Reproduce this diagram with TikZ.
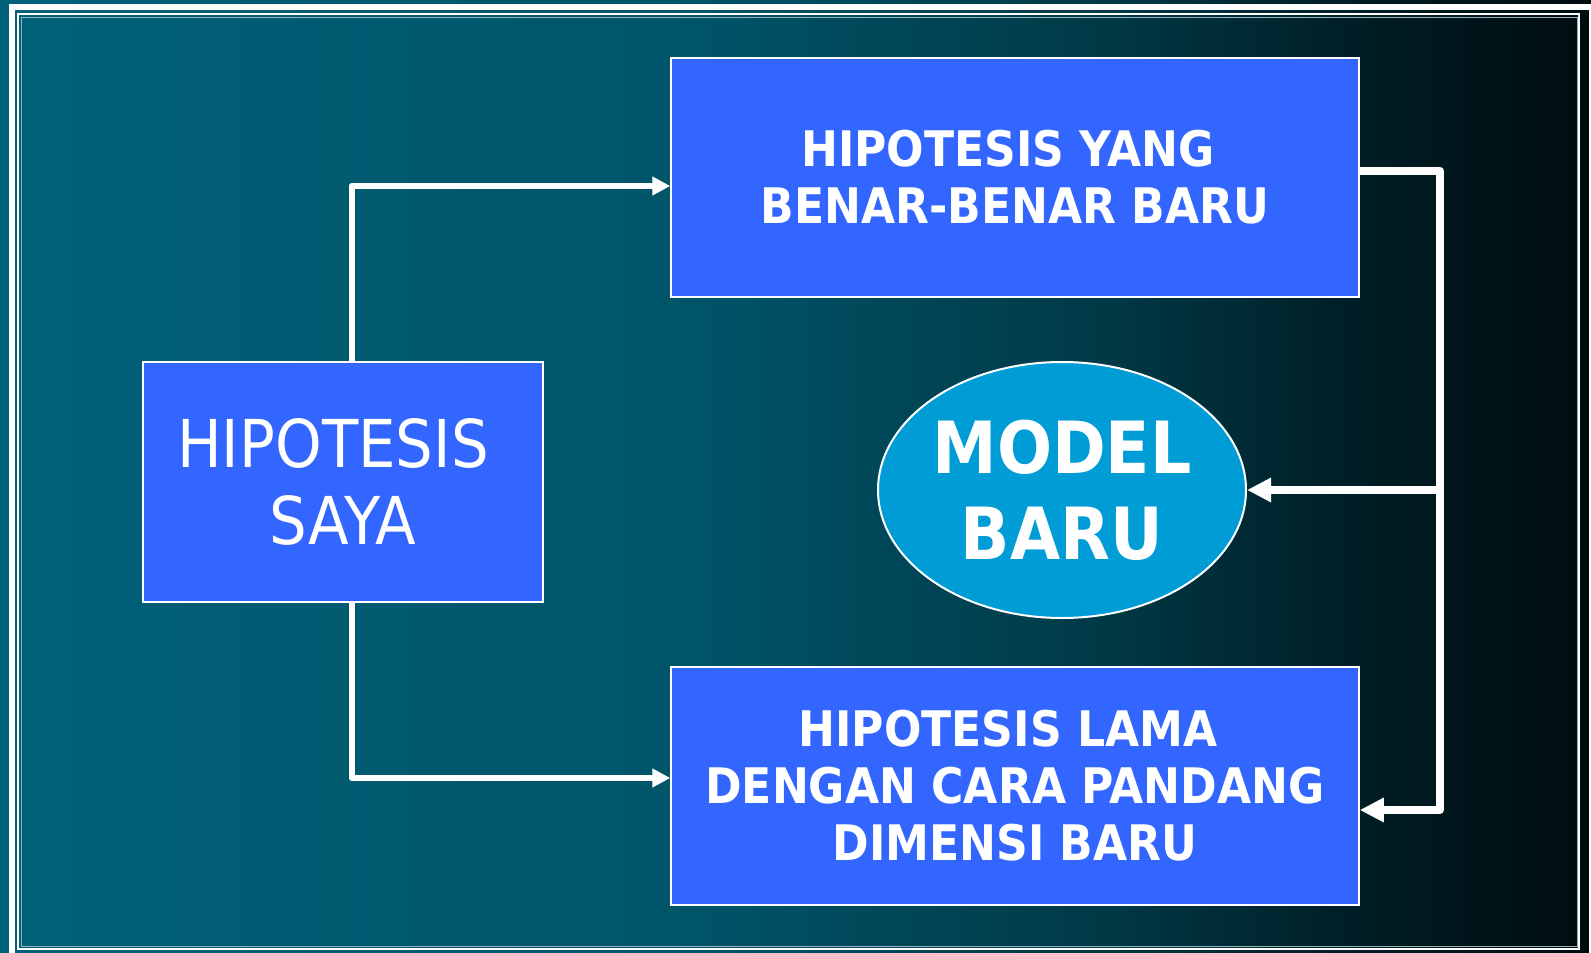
\documentclass[tikz,border=0pt]{standalone}
\usepackage{fontspec}
\newfontfamily\tah[FakeStretch=0.9]{DejaVu Sans}
\usetikzlibrary{arrows.meta,calc,shapes.geometric}
\definecolor{boxblue}{RGB}{51,102,255}
\definecolor{ellblue}{RGB}{0,156,214}
\definecolor{framegray}{RGB}{150,175,185}
\pgfdeclarehorizontalshading{bgshade}{100bp}{rgb(0bp)=(0,0.38,0.475); rgb(25bp)=(0,0.38,0.475); rgb(47bp)=(0,0.33,0.41); rgb(60bp)=(0,0.22,0.27); rgb(68bp)=(0,0.11,0.14); rgb(75bp)=(0,0.05,0.06); rgb(100bp)=(0,0.05,0.06)}
\tikzset{
  boxnode/.style={draw=white, line width=1.5pt, fill=boxblue, text=white, align=center, inner sep=0pt},
  smalltxt/.style={font=\tah\bfseries\fontsize{49}{57}\selectfont},
  thinarrow/.style={draw=white, line width=6pt, line join=round, -{Triangle[length=18pt,width=18pt]}},
  thickarrow/.style={draw=white, line width=8pt, line join=round, -{Triangle[length=24pt,width=23pt]}}
}
\begin{document}
\begin{tikzpicture}[x=1pt,y=-1pt]
\useasboundingbox (0,0) rectangle (1591,953);
\shade[shading=bgshade] (0,0) rectangle (1591,953);
% frame
\draw[white, line width=6pt] (12,7) rectangle (1591.5,960);
\draw[white, line width=2pt] (18,14) rectangle (1579,949);
\draw[framegray, line width=1pt] (21.5,17.5) rectangle (1577,946.5);
% nodes
\node[boxnode, smalltxt, minimum width=688pt, minimum height=239pt] (top) at (1015,177.5)
  {HIPOTESIS YANG\hspace*{14pt}\\BENAR-BENAR BARU};
\node[boxnode, font=\tah\fontsize{66}{77}\selectfont, minimum width=400pt, minimum height=240pt] (me) at (343,482)
  {HIPOTESIS\hspace*{20pt}\\SAYA};
\node[boxnode, smalltxt, minimum width=688pt, minimum height=238pt] (old) at (1015,786)
  {HIPOTESIS LAMA\hspace*{14pt}\\DENGAN CARA PANDANG\hspace*{16pt}\\DIMENSI BARU};
\node[draw=white, line width=2pt, fill=ellblue, ellipse, text=white, align=center, inner sep=0pt,
  minimum width=368pt, minimum height=256pt, font=\tah\bfseries\fontsize{72}{86}\selectfont] (model) at (1062,490)
  {MODEL\\BARU};
% connectors
\draw[thinarrow] ([xshift=8.5pt]me.north) |- ([yshift=-8.5pt]top.west);
\draw[thinarrow] ([xshift=8.5pt]me.south) |- ([yshift=8pt]old.west);
\draw[thickarrow] ([yshift=7pt]top.east) -- ++(80,0) |- ([yshift=-24pt]old.east);
\coordinate (j) at ($(top.east)+(80,0)$);
\draw[thickarrow] (j |- model.east) -- (model.east);
\end{tikzpicture}
\end{document}
